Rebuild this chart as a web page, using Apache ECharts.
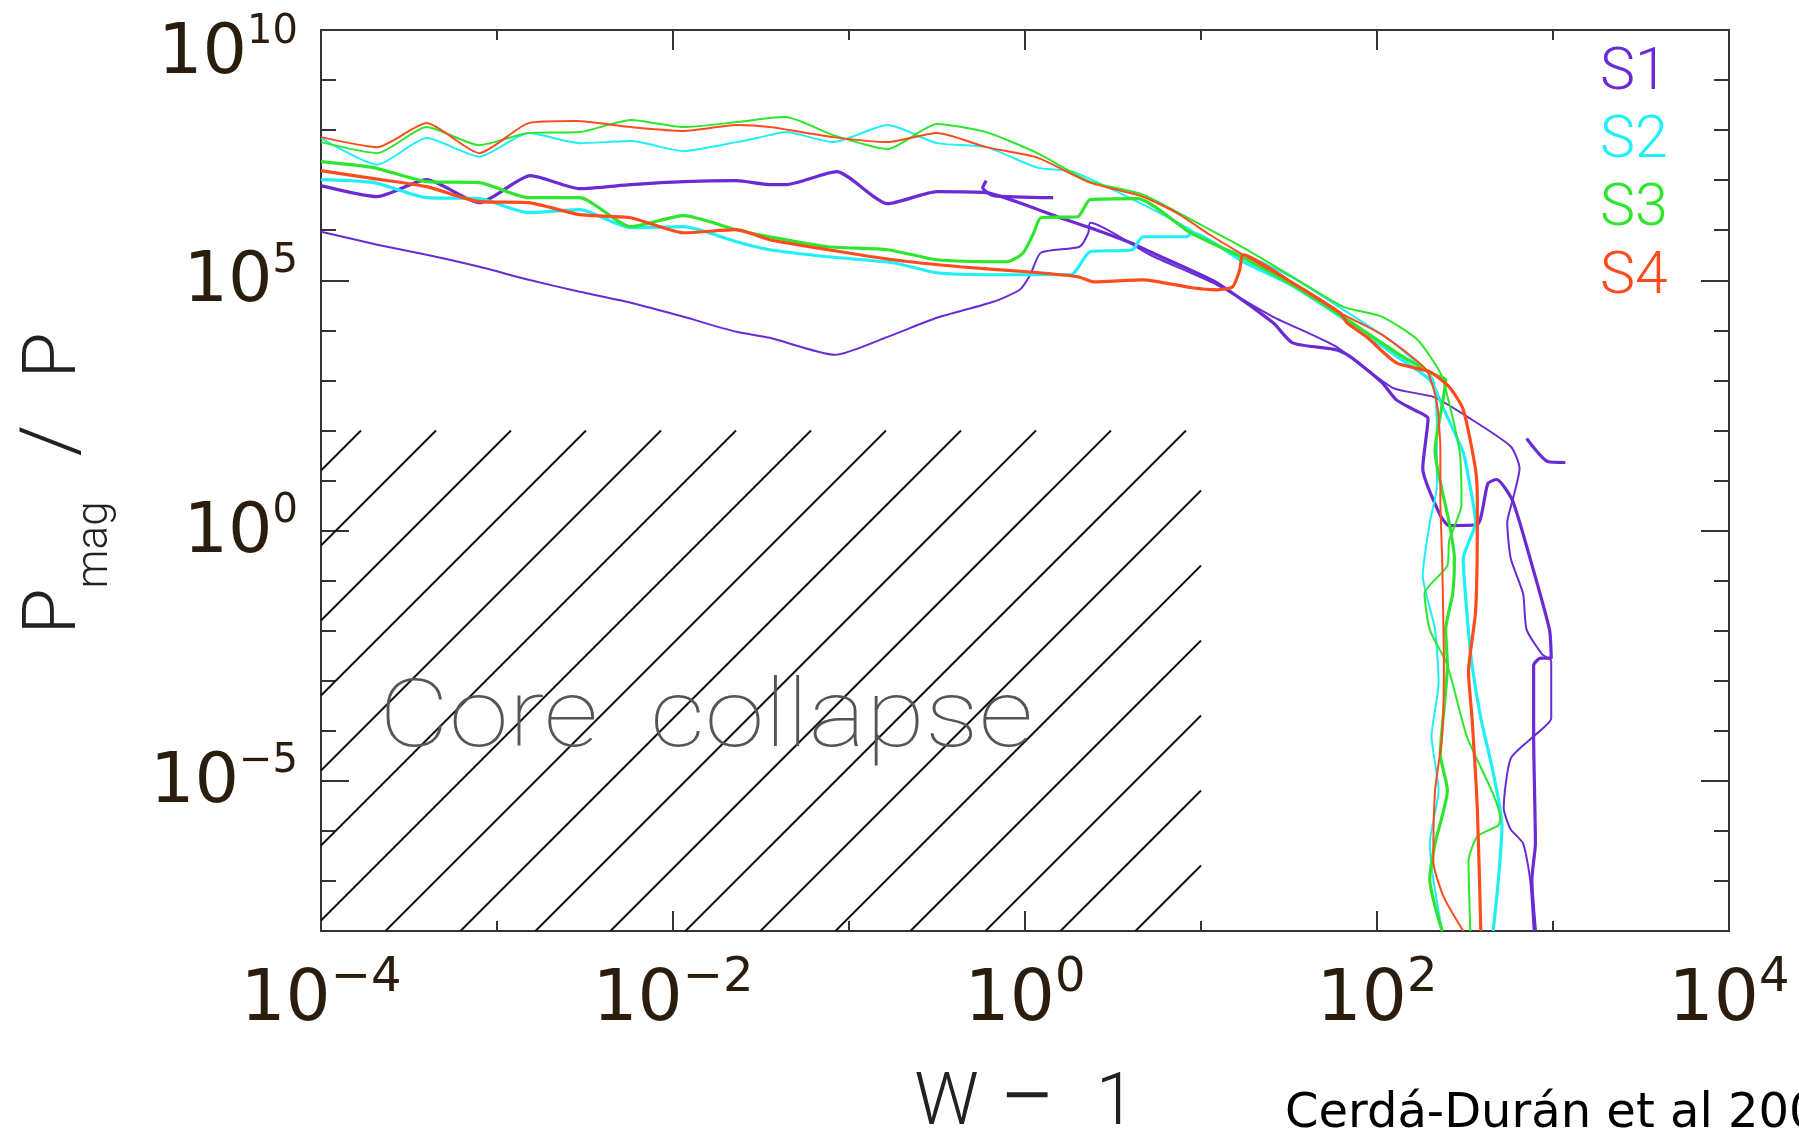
<!DOCTYPE html>
<html>
<head>
<meta charset="utf-8">
<title>Pmag/P vs W-1</title>
<script src="https://cdn.jsdelivr.net/npm/echarts@6/dist/echarts.min.js"></script>
<style>
  html, body { margin: 0; padding: 0; background: #fff; }
  #chart { width: 1799px; height: 1133px; }
</style>
</head>
<body>
<div id="chart"></div>
<script>
// every point is [log10(W - 1), log10(Pmag / P)]
const s1Thick = [[-4.00,6.89],[-3.68,6.67],[-3.40,7.01],[-3.10,6.55],[-2.81,7.09],[-2.53,6.83],[-2.24,6.91],[-1.94,6.97],[-1.64,6.99],[-1.45,6.91],[-1.36,6.91],[-1.07,7.17],[-0.78,6.53],[-0.50,6.77],[-0.22,6.75],[0.03,6.47],[0.20,6.25],[0.37,6.05],[0.60,5.75],[0.71,5.57],[1.09,4.95],[1.41,4.15],[1.52,3.75],[1.77,3.61],[1.85,3.47],[2.03,2.95],[2.11,2.61],[2.20,2.43],[2.29,2.24],[2.26,1.24],[2.36,0.30],[2.41,0.10],[2.57,0.12],[2.63,0.94],[2.68,1.02],[2.77,0.60],[2.87,-0.56],[2.98,-1.98],[2.99,-2.55],[2.93,-2.55],[2.89,-2.69],[2.89,-4.11],[2.90,-6.25],[2.88,-6.97],[2.90,-8.00]];
const s1Thin = [[-4.00,5.97],[-3.68,5.71],[-3.40,5.51],[-3.10,5.27],[-2.82,5.01],[-2.53,4.77],[-2.24,4.55],[-1.94,4.27],[-1.64,3.97],[-1.45,3.85],[-1.08,3.51],[-0.78,3.87],[-0.50,4.25],[-0.18,4.57],[-0.03,4.81],[0.03,5.11],[0.09,5.55],[0.31,5.67],[0.36,5.95],[0.37,6.15],[0.71,5.51],[1.09,4.91],[1.41,4.27],[1.77,3.67],[2.09,2.85],[2.32,2.67],[2.51,2.28],[2.76,1.68],[2.81,1.24],[2.77,0.60],[2.74,0.16],[2.76,-0.56],[2.83,-1.26],[2.85,-1.98],[2.94,-2.48],[2.99,-2.61],[2.99,-3.75],[2.89,-4.11],[2.76,-4.55],[2.72,-5.55],[2.76,-5.97],[2.83,-6.25],[2.87,-6.97],[2.89,-8.00]];
const s1StubA = [[-0.22,6.99],[-0.24,6.85],[-0.18,6.69],[0.16,6.65]];
const s1StubB = [[2.85,1.84],[2.97,1.38],[3.07,1.36]];

const s2Thick = [[-4.00,7.01],[-3.70,6.95],[-3.40,6.65],[-3.10,6.63],[-2.82,6.35],[-2.53,6.41],[-2.24,6.05],[-1.94,6.07],[-1.64,5.77],[-1.45,5.61],[-1.12,5.47],[-0.75,5.35],[-0.50,5.15],[-0.18,5.11],[0.26,5.11],[0.37,5.57],[0.61,5.61],[0.67,5.87],[0.92,5.87],[0.95,5.95],[1.24,5.37],[1.51,4.91],[1.82,4.21],[2.10,3.51],[2.30,3.01],[2.38,2.42],[2.49,1.56],[2.51,1.24],[2.56,0.16],[2.49,-0.56],[2.51,-1.62],[2.54,-2.69],[2.59,-3.75],[2.66,-4.83],[2.71,-5.89],[2.69,-6.97],[2.66,-8.00]];
const s2Thin = [[-4.00,7.84],[-3.68,7.31],[-3.40,7.84],[-3.10,7.47],[-2.82,7.94],[-2.53,7.74],[-2.24,7.78],[-1.94,7.58],[-1.64,7.76],[-1.45,7.90],[-1.36,7.96],[-1.09,7.76],[-0.78,8.10],[-0.50,7.74],[-0.22,7.66],[0.07,7.25],[0.27,7.17],[0.58,6.67],[0.92,6.05],[1.05,5.75],[1.34,5.37],[1.56,4.97],[1.81,4.41],[2.07,3.81],[2.24,3.31],[2.32,3.01],[2.34,2.02],[2.34,0.88],[2.30,0.16],[2.26,-0.90],[2.33,-1.98],[2.35,-3.05],[2.31,-4.11],[2.35,-5.19],[2.30,-6.25],[2.32,-6.97],[2.37,-8.00]];

const s3Thick = [[-4.00,7.37],[-3.70,7.25],[-3.40,6.97],[-3.10,6.95],[-2.82,6.65],[-2.53,6.65],[-2.24,6.07],[-1.94,6.29],[-1.64,6.01],[-1.45,5.87],[-1.12,5.67],[-0.78,5.61],[-0.50,5.41],[-0.10,5.37],[-0.01,5.55],[0.05,5.95],[0.09,6.25],[0.30,6.27],[0.37,6.61],[0.64,6.63],[0.94,5.95],[1.24,5.45],[1.52,4.91],[1.79,4.31],[2.13,3.51],[2.33,3.11],[2.39,3.01],[2.33,1.60],[2.41,0.16],[2.44,-0.56],[2.43,-1.26],[2.39,-1.98],[2.40,-2.69],[2.36,-4.47],[2.40,-5.19],[2.33,-6.25],[2.30,-6.97],[2.37,-8.00]];
const s3Thin = [[-4.00,7.76],[-3.68,7.54],[-3.40,8.06],[-3.10,7.70],[-2.82,7.94],[-2.53,7.96],[-2.24,8.20],[-1.94,8.06],[-1.64,8.16],[-1.45,8.24],[-1.36,8.26],[-1.09,7.90],[-0.78,7.62],[-0.50,8.12],[-0.22,7.96],[0.07,7.54],[0.37,6.97],[0.67,6.71],[1.05,6.01],[1.24,5.65],[1.52,5.07],[1.81,4.47],[2.03,4.27],[2.23,3.81],[2.36,3.15],[2.41,2.55],[2.47,1.56],[2.48,0.52],[2.41,-0.20],[2.40,-0.70],[2.27,-1.26],[2.30,-1.98],[2.40,-2.69],[2.51,-4.11],[2.70,-5.75],[2.69,-5.89],[2.57,-6.11],[2.52,-6.61],[2.53,-8.00]];

const s4Thick = [[-4.00,7.19],[-3.70,7.03],[-3.40,6.87],[-3.10,6.57],[-2.82,6.55],[-2.53,6.31],[-2.24,6.25],[-1.94,5.95],[-1.64,6.01],[-1.45,5.81],[-1.12,5.61],[-0.75,5.41],[-0.37,5.27],[0.01,5.17],[0.30,5.07],[0.39,4.97],[0.67,5.01],[0.95,4.85],[1.09,4.81],[1.18,4.87],[1.22,5.21],[1.24,5.51],[1.52,4.95],[1.79,4.35],[1.83,4.15],[1.94,3.87],[2.11,3.35],[2.30,3.17],[2.41,2.87],[2.49,2.42],[2.56,1.22],[2.57,0.62],[2.57,0.16],[2.56,-1.62],[2.52,-2.83],[2.54,-3.75],[2.57,-5.55],[2.59,-8.00]];
const s4Thin = [[-4.00,7.86],[-3.68,7.66],[-3.40,8.14],[-3.10,7.54],[-2.82,8.14],[-2.55,8.18],[-2.24,8.06],[-1.94,7.98],[-1.64,8.10],[-1.45,8.06],[-1.09,7.86],[-0.78,7.76],[-0.50,7.94],[-0.22,7.66],[0.07,7.45],[0.37,6.95],[0.67,6.67],[0.86,6.35],[1.05,5.91],[1.24,5.51],[1.52,4.95],[1.79,4.35],[2.03,3.91],[2.28,3.21],[2.34,2.55],[2.36,1.60],[2.36,0.62],[2.37,-0.56],[2.38,-2.69],[2.37,-4.11],[2.33,-5.19],[2.32,-6.61],[2.38,-7.33],[2.49,-8.00]];

// hatched "core collapse" box: [xmin, xmax, ymin, ymax] in log10 units
const collapseRegion = [[-4, 1, -8, 2]];

const xLabelExps = [-4, -2, 0, 2, 4];
const yLabelExps = [-5, 0, 5, 10];
const yMajorTicks = [-5, 0, 5];

const purple = '#6a2bd4';
const cyan = '#1ff0f7';
const green = '#2de62d';
const red = '#ff4b1e';

const axisColor = '#333';
const labelColor = '#2b1d0e';
const labelFont = 'DejaVu Sans';
const titleStyle = { fontFamily: 'Roboto', fontWeight: 300, color: '#222' };

function supText(e) {
  return e < 0 ? '\u2212' + Math.abs(e) : String(e);
}

function curve(name, data, color, width) {
  return {
    type: 'line',
    name: name,
    data: data,
    symbol: 'none',
    smooth: 0.2,
    z: 3,
    lineStyle: { color: color, width: width },
    itemStyle: { color: color },
    emphasis: { disabled: true }
  };
}

// plain frame axis (right copy, and the long major ticks)
function frameY(position, opts) {
  return Object.assign({
    type: 'value',
    position: position,
    min: -8,
    max: 10,
    splitLine: { show: false },
    axisLabel: { show: false }
  }, opts);
}

const chart = echarts.init(document.getElementById('chart'));

const option = {
  animation: false,
  grid: { left: 321, top: 30, width: 1408, height: 901, outerBoundsMode: 'none' },
  legend: {
    data: [
      { name: 'S1', textStyle: { color: purple } },
      { name: 'S2', textStyle: { color: cyan } },
      { name: 'S3', textStyle: { color: green } },
      { name: 'S4', textStyle: { color: red } }
    ],
    orient: 'vertical',
    left: 1590,
    top: 40,
    icon: 'none',
    itemWidth: 0,
    itemHeight: 10,
    itemGap: 9,
    selectedMode: false,
    textStyle: { fontSize: 59, fontFamily: 'Roboto', fontWeight: 300, lineHeight: 58 }
  },
  xAxis: [
    {
      type: 'value',
      position: 'bottom',
      min: -4,
      max: 4,
      interval: 2,
      axisLine: { show: true, onZero: false, lineStyle: { color: axisColor, width: 2 } },
      axisTick: { inside: true, length: 20, lineStyle: { color: axisColor, width: 2 } },
      minorTick: { show: true, splitNumber: 2, length: 10, lineStyle: { color: axisColor, width: 2 } },
      splitLine: { show: false },
      axisLabel: {
        margin: 35,
        showMinLabel: true,
        showMaxLabel: true,
        customValues: xLabelExps,
        formatter: (v) => '{m|10}{s|' + supText(v) + '}',
        rich: {
          m: { fontSize: 71, lineHeight: 71, fontFamily: labelFont, color: labelColor },
          s: { fontSize: 48, lineHeight: 48, fontFamily: labelFont, color: labelColor, padding: [0, 0, 45, 0] }
        }
      },
      name: '{w|W}{mi|\u2212}{o|1}',
      nameLocation: 'middle',
      nameGap: 139,
      nameTextStyle: {
        rich: {
          w: Object.assign({ fontSize: 72, lineHeight: 72 }, titleStyle),
          mi: Object.assign({ fontSize: 100, lineHeight: 72, padding: [0, 40, 0, 20] }, titleStyle),
          o: Object.assign({ fontSize: 72, lineHeight: 72 }, titleStyle)
        }
      }
    },
    {
      type: 'value',
      position: 'top',
      min: -4,
      max: 4,
      interval: 2,
      axisLine: { show: true, onZero: false, lineStyle: { color: axisColor, width: 2 } },
      axisTick: { inside: true, length: 20, lineStyle: { color: axisColor, width: 2 } },
      minorTick: { show: true, splitNumber: 2, length: 10, lineStyle: { color: axisColor, width: 2 } },
      splitLine: { show: false },
      axisLabel: { show: false }
    }
  ],
  yAxis: [
    {
      type: 'value',
      position: 'left',
      min: -8,
      max: 10,
      interval: 1,
      axisLine: { show: true, onZero: false, lineStyle: { color: axisColor, width: 2 } },
      axisTick: { inside: true, length: 15, lineStyle: { color: axisColor, width: 2 } },
      splitLine: { show: false },
      axisLabel: {
        margin: 23,
        customValues: yLabelExps,
        formatter: (v) => v === 10 ? '{mt|10}{st|10}' : '{m|10}{s|' + supText(v) + '}',
        rich: {
          m: { fontSize: 70, lineHeight: 70, fontFamily: labelFont, color: labelColor, padding: [6, 0, 0, 0] },
          s: { fontSize: 40, lineHeight: 40, fontFamily: labelFont, color: labelColor, padding: [0, 0, 38, 0] },
          mt: { fontSize: 70, lineHeight: 70, fontFamily: labelFont, color: labelColor, padding: [50, 0, 0, 0] },
          st: { fontSize: 40, lineHeight: 40, fontFamily: labelFont, color: labelColor, padding: [5, 0, 0, 0] }
        }
      },
      name: '{p|P}{sub|mag}{sl|/}{p2|P}',
      nameLocation: 'middle',
      nameRotate: 90,
      nameGap: 225,
      nameTextStyle: {
        rich: {
          p: Object.assign({ fontSize: 75, lineHeight: 75 }, titleStyle),
          sub: Object.assign({ fontSize: 44, lineHeight: 44, padding: [80, 0, 0, 0] }, titleStyle),
          sl: Object.assign({ fontSize: 80, lineHeight: 80, padding: [0, 46, 0, 45] }, titleStyle),
          p2: Object.assign({ fontSize: 75, lineHeight: 75, padding: [0, 6, 0, 0] }, titleStyle)
        }
      }
    },
    frameY('left', {
      axisLine: { show: false, onZero: false },
      axisTick: { inside: true, length: 28, customValues: yMajorTicks, lineStyle: { color: axisColor, width: 2 } }
    }),
    frameY('right', {
      interval: 1,
      axisLine: { show: true, onZero: false, lineStyle: { color: axisColor, width: 2 } },
      axisTick: { inside: true, length: 15, lineStyle: { color: axisColor, width: 2 } }
    }),
    frameY('right', {
      axisLine: { show: false, onZero: false },
      axisTick: { inside: true, length: 28, customValues: yMajorTicks, lineStyle: { color: axisColor, width: 2 } }
    })
  ],
  graphic: [
    {
      type: 'text',
      x: 379,
      y: 722,
      scaleX: 1.15,
      z: 2,
      style: { text: 'Core  collapse', fontSize: 94, fontFamily: 'Roboto', fontWeight: 100, fill: '#555', align: 'left', verticalAlign: 'middle' }
    },
    {
      type: 'text',
      x: 1285,
      y: 1115,
      style: { text: 'Cerdá-Durán et al 2008', fontSize: 48, fontFamily: 'DejaVu Sans', fill: '#000', align: 'left', verticalAlign: 'middle' }
    }
  ],
  series: [
    {
      type: 'custom',
      name: 'collapse',
      silent: true,
      z: 1,
      data: collapseRegion,
      encode: { x: [0, 1], y: [2, 3] },
      renderItem: function (params, api) {
        const tl = api.coord([api.value(0), api.value(3)]);
        const br = api.coord([api.value(1), api.value(2)]);
        const L = tl[0], T = tl[1], R = br[0], B = br[1];
        const gap = 75;
        const lines = [];
        for (let c = L + T + 40; c < R + B; c += gap) {
          const xa = Math.max(L, c - B);
          const xb = Math.min(R, c - T);
          if (xb <= xa) continue;
          lines.push({
            type: 'line',
            shape: { x1: xa, y1: c - xa, x2: xb, y2: c - xb },
            style: { stroke: '#111', lineWidth: 2 }
          });
        }
        return { type: 'group', children: lines };
      }
    },
    curve('S1', s1Thin, purple, 2),
    curve('S1', s1Thick, purple, 3.2),
    curve('S1', s1StubA, purple, 3.2),
    curve('S1', s1StubB, purple, 3.2),
    curve('S2', s2Thin, cyan, 2),
    curve('S2', s2Thick, cyan, 3.2),
    curve('S3', s3Thin, green, 2),
    curve('S3', s3Thick, green, 3.2),
    curve('S4', s4Thin, red, 2),
    curve('S4', s4Thick, red, 3.2)
  ]
};

chart.setOption(option);
window.addEventListener('resize', () => {
  chart.resize();
});
</script>
</body>
</html>
